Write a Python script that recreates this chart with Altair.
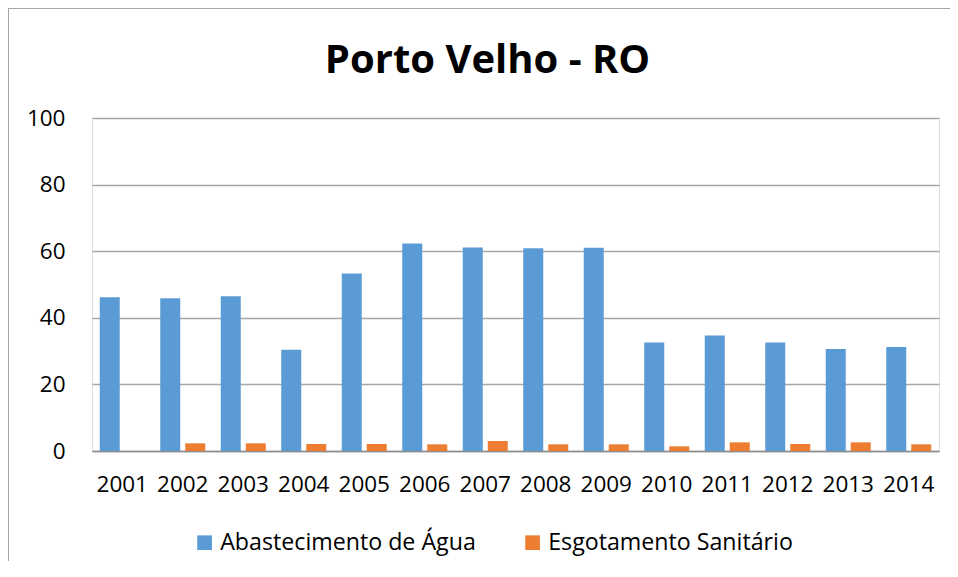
import altair as alt
import pandas as pd

years = ["2001", "2002", "2003", "2004", "2005", "2006", "2007",
         "2008", "2009", "2010", "2011", "2012", "2013", "2014"]
agua = [46.2, 45.9, 46.5, 30.4, 53.3, 62.3, 61.1, 60.9, 61.0, 32.6, 34.7, 32.6, 30.6, 31.2]
esgoto = [0.0, 2.3, 2.3, 2.1, 2.1, 2.0, 3.0, 2.0, 2.0, 1.4, 2.6, 2.1, 2.6, 2.0]
series = ["Abastecimento de Água", "Esgotamento Sanitário"]
colors = ["#5B9BD5", "#ED7D31"]
y_ticks = [0, 20, 40, 60, 80, 100]

rows = []
for i, yr in enumerate(years):
    rows.append({"ano": yr, "serie": series[0], "valor": agua[i]})
    rows.append({"ano": yr, "serie": series[1], "valor": esgoto[i]})
df = pd.DataFrame(rows)

FONT = "Open Sans"
FS = 22.5

bars = alt.Chart(df).mark_bar().encode(
    x=alt.X("ano:N", sort=years, title=None,
            scale=alt.Scale(paddingInner=0.256, paddingOuter=0.128),
            axis=alt.Axis(labelAngle=0, ticks=False, domain=True, domainColor="#8c8c8c",
                          domainWidth=1.3, labelPadding=22, labelFont=FONT,
                          labelFontSize=FS, labelColor="#000000", grid=False)),
    xOffset=alt.XOffset("serie:N", sort=series,
                        scale=alt.Scale(paddingInner=0.2, paddingOuter=0)),
    y=alt.Y("valor:Q", title=None,
            scale=alt.Scale(domain=[0, 100], nice=False),
            axis=alt.Axis(values=y_ticks, ticks=False, domain=False, grid=True,
                          gridColor="#a6a6a6", gridWidth=1.3, labelPadding=27,
                          labelFont=FONT, labelFontSize=FS, labelColor="#000000")),
    color=alt.Color("serie:N", sort=series, title=None,
                    scale=alt.Scale(domain=series, range=colors),
                    legend=alt.Legend(orient="none", legendX=101, legendY=413,
                                      direction="horizontal", symbolType="square",
                                      symbolSize=216, symbolStrokeWidth=0,
                                      labelFont=FONT, labelFontSize=23.2,
                                      labelColor="#000000", labelOffset=4,
                                      labelLimit=0, columnPadding=45, padding=0)),
)

border_left = alt.Chart(pd.DataFrame({"k": [0]})).mark_rule(
    color="#a6a6a6", strokeWidth=1).encode(
    x=alt.value(-83.5), y=alt.value(-110), y2=alt.value(460))
border_top = alt.Chart(pd.DataFrame({"k": [0]})).mark_rule(
    color="#a6a6a6", strokeWidth=1).encode(
    x=alt.value(-84), x2=alt.value(870), y=alt.value(-109.5))

chart = alt.layer(bars, border_left, border_top).properties(
    width=847, height=333,
    title=alt.TitleParams("Porto Velho - RO", font=FONT, fontSize=40,
                          fontWeight="bold", color="#000000", anchor="middle",
                          frame="group", baseline="alphabetic", offset=-105, dx=-28),
    autosize=alt.AutoSizeParams(type="none"),
    padding={"left": 84, "top": 110, "right": 11, "bottom": 110},
).configure_view(stroke=None).configure(background="#ffffff")

chart.save("out.html", embed_options={"renderer": "svg", "actions": False})
